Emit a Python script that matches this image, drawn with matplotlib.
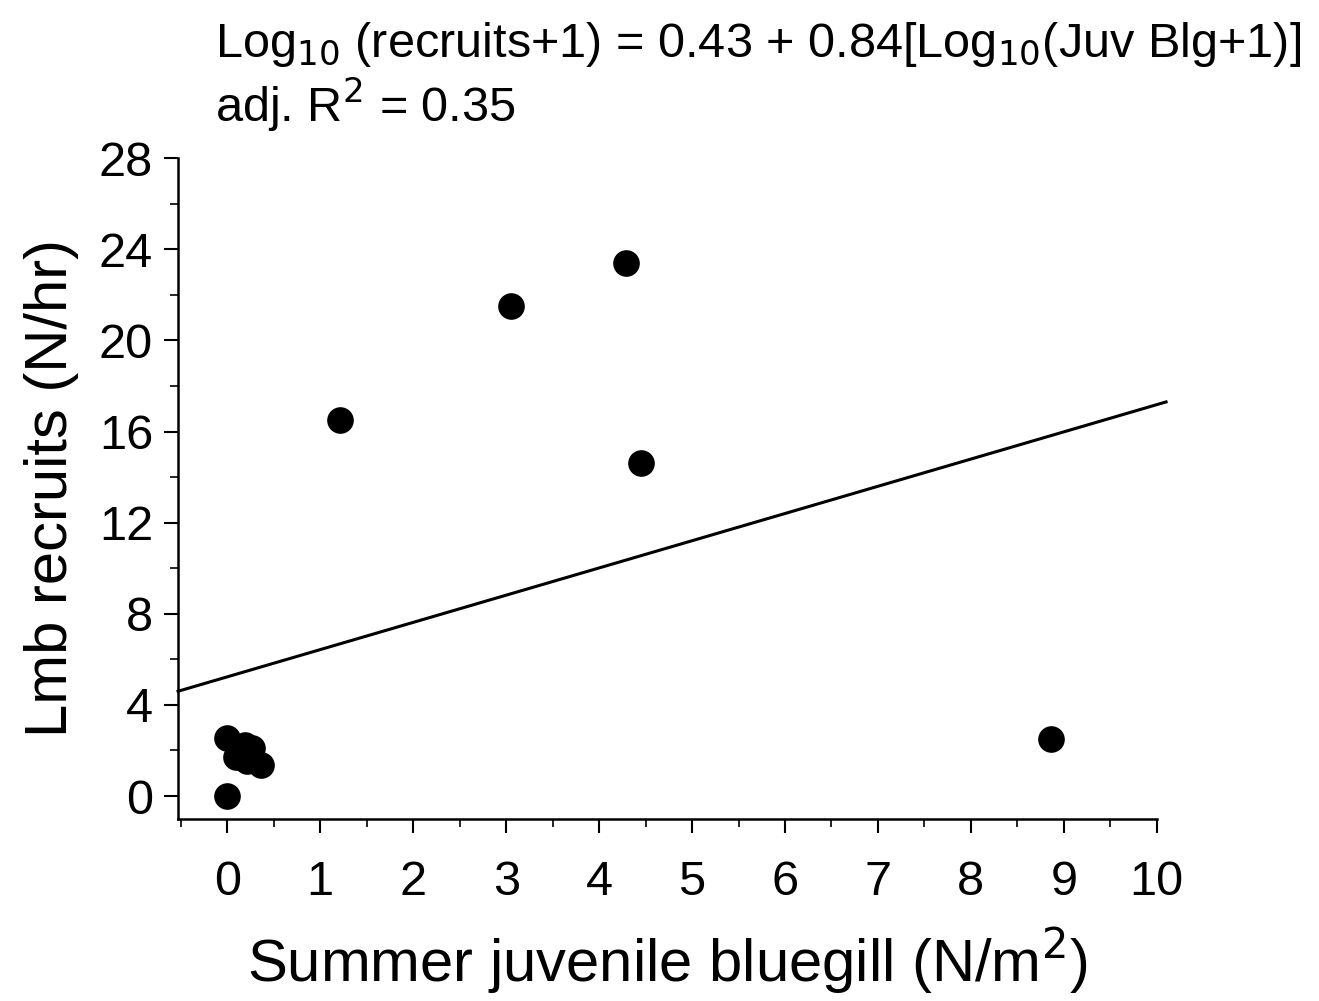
import matplotlib.pyplot as plt
from matplotlib.ticker import MultipleLocator

plt.rcParams["font.family"] = ["Liberation Sans", "DejaVu Sans"]

# summer juvenile bluegill (N/m2) vs Lmb recruits (N/hr)
juv_blg = [0.0, 0.0, 0.09, 0.19, 0.21, 0.27, 0.36, 1.21, 3.05, 4.29, 4.45, 8.86]
recruits = [2.54, 0.0, 1.7, 2.23, 1.55, 2.1, 1.36, 16.5, 21.5, 23.4, 14.6, 2.5]

# fitted line as drawn
fit_x = [-0.53, 10.1]
fit_y = [4.6, 17.3]

fig = plt.figure(figsize=(13.19, 10.01), dpi=100)
ax = fig.add_axes([0.135, 0.182, 0.742, 0.66])

ax.plot(fit_x, fit_y, color="black", linewidth=2.2, clip_on=False)
ax.scatter(juv_blg, recruits, s=330, color="black", zorder=3, clip_on=False)

ax.set_xlim(-0.53, 10)
ax.set_ylim(-1, 28)
ax.xaxis.set_major_locator(MultipleLocator(1))
ax.xaxis.set_minor_locator(MultipleLocator(0.5))
ax.yaxis.set_major_locator(MultipleLocator(4))
ax.yaxis.set_minor_locator(MultipleLocator(2))

for s in ["top", "right"]:
    ax.spines[s].set_visible(False)
for s in ["left", "bottom"]:
    ax.spines[s].set_linewidth(1.8)

ax.tick_params(which="major", direction="out", length=10, width=1.5, labelsize=35, pad=8)
ax.tick_params(which="minor", direction="out", length=6, width=1.2)
ax.tick_params(axis="x", pad=20)

ax.set_xlabel(r"Summer juvenile bluegill (N/m$^2$)", fontsize=43, labelpad=14)
ax.set_ylabel("Lmb recruits (N/hr)", fontsize=43, labelpad=14)

fig.text(0.163, 0.943, r"Log$_{10}$ (recruits+1) = 0.43 + 0.84[Log$_{10}$(Juv Blg+1)]",
         fontsize=35, ha="left", va="baseline")
fig.text(0.163, 0.878, r"adj. R$^2$ = 0.35", fontsize=35, ha="left", va="baseline")

plt.savefig("out.png", dpi=100)
